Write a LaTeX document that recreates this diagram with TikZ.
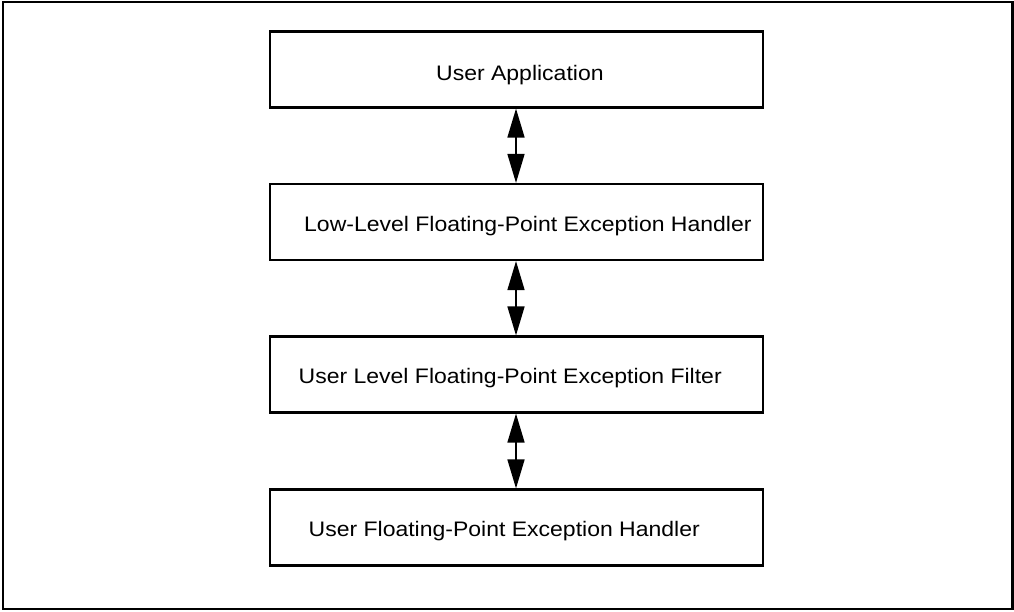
\documentclass[tikz,border=0pt]{standalone}
\usepackage{fontspec}
\setmainfont[FakeStretch=1.095]{Liberation Sans}
\usetikzlibrary{arrows.meta}
\begin{document}
\begin{tikzpicture}[x=1pt,y=-1pt,
  layerbox/.style={draw=black,line width=2.2pt,minimum width=493pt,minimum height=76pt,inner sep=0pt},
  lbl/.style={anchor=base west,inner sep=0pt,font=\fontsize{21}{25}\selectfont},
  biarrow/.style={line width=1.6pt,{Triangle[length=29pt,width=17pt]}-{Triangle[length=29pt,width=17pt]}}]
\useasboundingbox (0,0) rectangle (1014,611);
\draw[line width=2.2pt] (3,1.8) rectangle (1012.5,609.2);
\node[layerbox] (b1) at (516.5,69.5) {};
\node[layerbox] (b2) at (516.5,222) {};
\node[layerbox] (b3) at (516.5,374.5) {};
\node[layerbox] (b4) at (516.5,527.5) {};
\node[lbl] (t1) at (436,80.3) {User Application};
\node[lbl] (t2) at (304,231) {Low-Level Floating-Point Exception Handler};
\node[lbl] (t3) at (298.5,383) {User Level Floating-Point Exception Filter};
\node[lbl] (t4) at (308.5,536.5) {User Floating-Point Exception Handler};
\draw[biarrow] ([xshift=-0.5pt]b1.south) -- ([xshift=-0.5pt]b2.north);
\draw[biarrow] ([xshift=-0.5pt]b2.south) -- ([xshift=-0.5pt]b3.north);
\draw[biarrow] ([xshift=-0.5pt]b3.south) -- ([xshift=-0.5pt]b4.north);
\end{tikzpicture}
\end{document}
